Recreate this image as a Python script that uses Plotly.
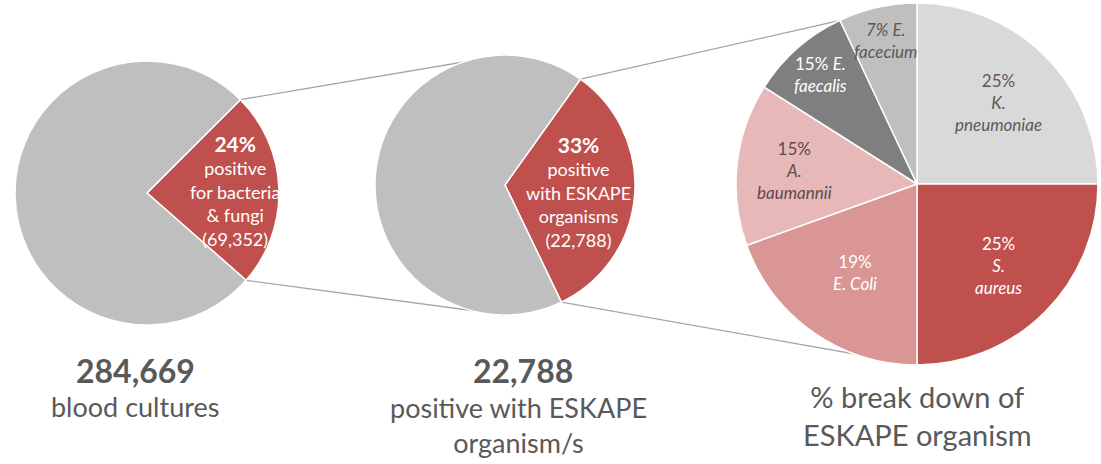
import math
import plotly.graph_objects as go

W, H = 1101, 464

# ---------------- data ----------------
p1_labels = ["positive for bacteria & fungi", "negative"]
p1_values = [24, 76]
p1_text = ["<b><span style='font-size:21px'>24%</span></b><br>positive<br>for bacteria<br>&amp; fungi<br>(69,352)", ""]

p2_labels = ["positive with ESKAPE organisms", "other positive"]
p2_values = [33, 67]
p2_text = ["<b><span style='font-size:21px'>33%</span></b><br>positive<br>with ESKAPE<br>organisms<br>(22,788)", ""]

p3_labels = ["K. pneumoniae", "S. aureus", "E. Coli", "A. baumannii", "E. faecalis", "E. facecium"]
p3_values = [25, 25, 19.5, 14.5, 9, 7]
p3_text = [
    "25%<br><i>K.</i><br><i>pneumoniae</i>",
    "25%<br><i>S.</i><br><i>aureus</i>",
    "19%<br><i>E. Coli</i>",
    "15%<br><i>A.</i><br><i>baumannii</i>",
    "15% <i>E.</i><br><i>faecalis</i>",
    "<i>7% E.</i><br><i>facecium</i>",
]

big_numbers = ["284,669", "22,788", ""]
captions = ["blood cultures", "positive with ESKAPE<br>organism/s", "% break down of<br>ESKAPE organism"]

# ---------------- style ----------------
FONT = "Lato"
GRAY = "#BFBFBF"
RED = "#C0504D"
TXT = "#595959"
p1_colors = [RED, GRAY]
p2_colors = [RED, GRAY]
p3_colors = ["#D9D9D9", RED, "#DA9694", "#E6B9B8", "#7F7F7F", "#BFBFBF"]
p3_txtcolors = [TXT, "white", "white", "#5E4A4A", "white", TXT]
caption_sizes = [27, 27, 29]

# pie geometry (pixel centre, radius) and start rotation
pies = [
    dict(cx=147, cy=193, r=132, rot=45, values=p1_values),
    dict(cx=505, cy=185, r=130, rot=35.5, values=p2_values),
    dict(cx=917, cy=184, r=181, rot=0, values=p3_values),
]


def domain(p):
    return dict(x=[(p["cx"] - p["r"]) / W, (p["cx"] + p["r"]) / W],
                y=[1 - (p["cy"] + p["r"]) / H, 1 - (p["cy"] - p["r"]) / H])


def point(p, clock_deg, frac):
    a = math.radians(clock_deg)
    px = p["cx"] + frac * p["r"] * math.sin(a)
    py = p["cy"] - frac * p["r"] * math.cos(a)
    return px / W, 1 - py / H


def slice_angles(p, i):
    tot = sum(p["values"])
    cum = sum(p["values"][:i])
    a0 = p["rot"] + 360 * cum / tot
    a1 = p["rot"] + 360 * (cum + p["values"][i]) / tot
    return a0, a1


fig = go.Figure()
for p, labels, colors in [(pies[0], p1_labels, p1_colors),
                          (pies[1], p2_labels, p2_colors),
                          (pies[2], p3_labels, p3_colors)]:
    fig.add_trace(go.Pie(
        labels=labels, values=p["values"], sort=False, direction="clockwise",
        rotation=p["rot"], domain=domain(p), textinfo="none", hoverinfo="label+percent",
        marker=dict(colors=colors, line=dict(color="white", width=1.5)),
        showlegend=False,
    ))

annotations = []


def add_label(p, i, frac, text, color, size):
    a0, a1 = slice_angles(p, i)
    x, y = point(p, (a0 + a1) / 2, frac)
    annotations.append(dict(x=x, y=y, xref="paper", yref="paper", text=text, showarrow=False,
                            xanchor="center", yanchor="middle",
                            font=dict(family=FONT, size=size, color=color)))


add_label(pies[0], 0, 0.67, p1_text[0], "white", 18)
add_label(pies[1], 0, 0.57, p2_text[0], "white", 18)
p3_frac = [0.64, 0.64, 0.6, 0.68, 0.81, 0.81]
for i in range(len(p3_values)):
    add_label(pies[2], i, p3_frac[i], p3_text[i], p3_txtcolors[i], 17)

# connector lines
shapes = []
for a, b in [(pies[0], pies[1]), (pies[1], pies[2])]:
    a0, a1 = slice_angles(a, 0)
    for ang, tgt in [(a0, 0), (a1, 180)]:
        x0, y0 = point(a, ang, 1.0)
        x1, y1 = point(b, tgt, 1.0)
        shapes.append(dict(type="line", xref="paper", yref="paper", x0=x0, y0=y0, x1=x1, y1=y1,
                           line=dict(color="#A6A6A6", width=1.3), layer="below"))

# bottom captions
num_pos = [(135, 370), (523, 370), None]
cap_pos = [(135, 406), (518, 425), (917, 415)]
for i in range(3):
    if big_numbers[i]:
        annotations.append(dict(x=num_pos[i][0] / W, y=1 - num_pos[i][1] / H, xref="paper", yref="paper",
                                text="<b>" + big_numbers[i] + "</b>", showarrow=False,
                                xanchor="center", yanchor="middle",
                                font=dict(family=FONT, size=32, color=TXT)))
    annotations.append(dict(x=cap_pos[i][0] / W, y=1 - cap_pos[i][1] / H, xref="paper", yref="paper",
                            text=captions[i], showarrow=False, xanchor="center", yanchor="middle",
                            font=dict(family=FONT, size=caption_sizes[i], color=TXT)))

fig.update_layout(
    width=W, height=H, margin=dict(l=0, r=0, t=0, b=0),
    paper_bgcolor="white", plot_bgcolor="white",
    annotations=annotations, shapes=shapes, showlegend=False,
)
fig.write_html("out.html", config={"displayModeBar": False},
               post_script="document.body.style.margin='0';document.body.style.overflow='hidden';")
